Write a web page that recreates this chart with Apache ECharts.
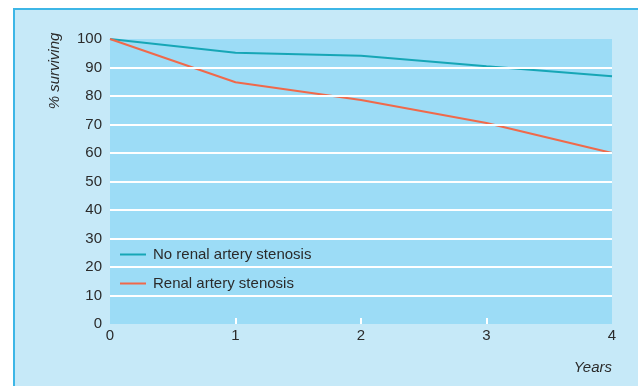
<!DOCTYPE html>
<html>
<head>
<meta charset="utf-8">
<script src="https://cdn.jsdelivr.net/npm/echarts@6/dist/echarts.min.js"></script>
<style>
  html, body { margin: 0; padding: 0; background: #ffffff; }
  #chart { width: 638px; height: 386px; }
</style>
</head>
<body>
<div id="chart"></div>
<script>
// Survival over follow-up, by presence of renal artery stenosis
const years = [0, 1, 2, 3, 4];
const noStenosis = [100, 95.2, 94.1, 90.4, 86.9];
const stenosis = [100, 84.8, 78.6, 70.5, 60];
const yTicks = [0, 10, 20, 30, 40, 50, 60, 70, 80, 90, 100];
const gridValues = [10, 20, 30, 40, 50, 60, 70, 80, 90];
const seriesNames = ['No renal artery stenosis', 'Renal artery stenosis'];

const FONT = '"Liberation Sans", Arial, sans-serif';
const TEXT = '#2b2b2b';

const chart = echarts.init(document.getElementById('chart'), null, { renderer: 'canvas' });

const pairs = vals => years.map((x, i) => [x, vals[i]]);

chart.setOption({
  animation: false,
  backgroundColor: '#ffffff',
  graphic: [
    {
      type: 'rect', z: -10, silent: true,
      shape: { x: 14, y: 9, width: 640, height: 400 },
      style: { fill: '#c6e9f8', stroke: '#3db6e6', lineWidth: 2 }
    },
    {
      type: 'text', silent: true,
      x: 55, y: 71, rotation: Math.PI / 2,
      style: {
        text: '% surviving', fill: TEXT,
        font: 'italic 15px ' + FONT,
        align: 'center', verticalAlign: 'middle'
      }
    },
    {
      type: 'text', silent: true,
      x: 612, y: 368,
      style: {
        text: 'Years', fill: TEXT,
        font: 'italic 15px ' + FONT,
        align: 'right', verticalAlign: 'middle'
      }
    }
  ],
  grid: {
    left: 110, top: 39, width: 502, height: 285,
    show: true, backgroundColor: '#9cdcf6', borderWidth: 0
  },
  legend: {
    orient: 'vertical',
    left: 120, top: 247, padding: 0,
    itemWidth: 26, itemHeight: 2, itemGap: 14,
    icon: 'rect',
    data: seriesNames,
    textStyle: { fontFamily: FONT, fontSize: 15, color: TEXT, padding: [0, 0, 0, 2] }
  },
  xAxis: {
    type: 'value', min: 0, max: 4, interval: 1,
    axisLine: { show: false },
    axisTick: {
      show: true, inside: true, length: 6,
      customValues: [1, 2, 3],
      lineStyle: { color: '#ffffff', width: 2 }
    },
    splitLine: { show: false },
    axisLabel: {
      color: TEXT, fontFamily: FONT, fontSize: 15, margin: 4,
      formatter: v => String(v)
    }
  },
  yAxis: {
    type: 'value', min: 0, max: 100, interval: 10,
    axisLine: { show: false },
    axisTick: { show: false },
    splitLine: { show: false },
    axisLabel: {
      color: TEXT, fontFamily: FONT, fontSize: 15, margin: 8,
      customValues: yTicks
    }
  },
  series: [
    {
      type: 'line', name: '_grid', silent: true, z: 1,
      data: [], symbol: 'none',
      markLine: {
        silent: true, symbol: 'none',
        label: { show: false },
        lineStyle: { color: '#ffffff', width: 2, type: 'solid' },
        data: gridValues.map(v => ({ yAxis: v }))
      }
    },
    {
      type: 'line', name: seriesNames[0], z: 3,
      data: pairs(noStenosis),
      symbol: 'none',
      lineStyle: { color: '#16a6b6', width: 2 },
      itemStyle: { color: '#16a6b6' }
    },
    {
      type: 'line', name: seriesNames[1], z: 3,
      data: pairs(stenosis),
      symbol: 'none',
      lineStyle: { color: '#f0694a', width: 2 },
      itemStyle: { color: '#f0694a' }
    }
  ]
});
</script>
</body>
</html>
